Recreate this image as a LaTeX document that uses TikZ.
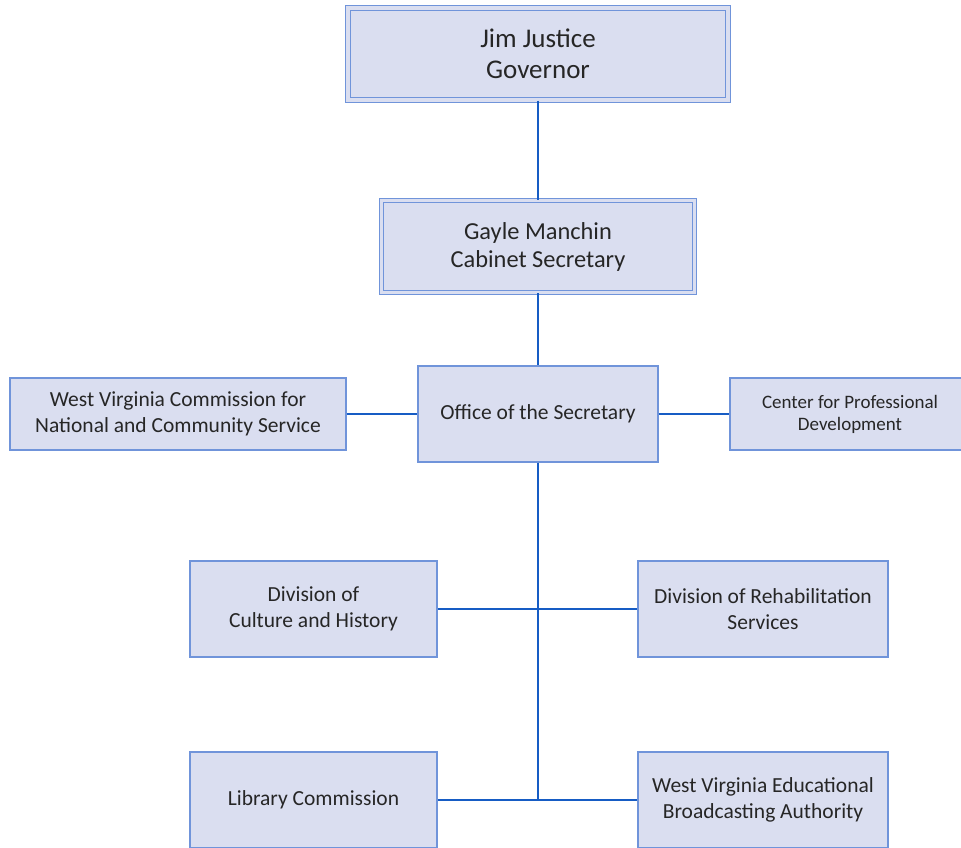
\documentclass[tikz,border=0pt]{standalone}
\usepackage{fontspec}
\setmainfont{Carlito}
\usetikzlibrary{positioning, shadows}
\definecolor{boxfill}{RGB}{218,222,240}
\definecolor{boxline}{RGB}{112,148,218}
\definecolor{linkblue}{RGB}{22,92,196}
\definecolor{txtgray}{RGB}{38,38,38}

\begin{document}
\begin{tikzpicture}[x=1pt, y=-1pt,
        unit/.style={draw=boxline, fill=boxfill, line width=1.1pt, align=center, text=txtgray, inner sep=2pt, font=\fontsize{21.5}{26}\selectfont},
        headunit/.style={unit, double=boxfill, double distance=3.6pt, line width=1.1pt, drop shadow={shadow xshift=2pt, shadow yshift=-2pt, opacity=0.25}},
        link/.style={linkblue, line width=1.8pt}
    ]
    \clip (0,0) rectangle (961,848);
    \fill[white] (0,0) rectangle (961,848);

    % top of the chart
    \node[headunit, minimum width=380pt, minimum height=92pt, font=\fontsize{27}{31}\selectfont] (gov) at (538,54) {Jim Justice\\Governor};
    \node[headunit, minimum width=313pt, minimum height=92pt, font=\fontsize{24.4}{28}\selectfont] (sec) at (538,246.5) {Gayle Manchin\\Cabinet Secretary};

    % office row
    \node[unit, minimum width=240pt, minimum height=96pt] (office) at (538,414) {Office of the Secretary};
    \node[unit, minimum width=336pt, minimum height=72pt] (comm) at (178,414) {West Virginia Commission for\\National and Community Service};
    \node[unit, minimum width=240pt, minimum height=72pt, font=\fontsize{19}{22}\selectfont] (cpd) at (850,414) {Center for Professional\\Development};

    % divisions
    \node[unit, minimum width=247pt, minimum height=96pt] (culture) at (313.5,609) {Division of\\Culture and History};
    \node[unit, minimum width=250pt, minimum height=96pt] (rehab) at (763,609) {Division of Rehabilitation\\Services};
    \node[unit, minimum width=247pt, minimum height=96pt] (library) at (313.5,800) {Library Commission};
    \node[unit, minimum width=250pt, minimum height=96pt] (wveba) at (763,800) {West Virginia Educational\\Broadcasting Authority};

    \coordinate (trunk) at (538,800);

    \draw[link] (gov) -- (sec);
    \draw[link] (sec) -- (office);
    \draw[link] (comm) -- (office);
    \draw[link] (office) -- (cpd);
    \draw[link] (office.south) -- (trunk);
    \draw[link] (culture) -- (rehab);
    \draw[link] (library) -- (wveba);
\end{tikzpicture}
\end{document}
